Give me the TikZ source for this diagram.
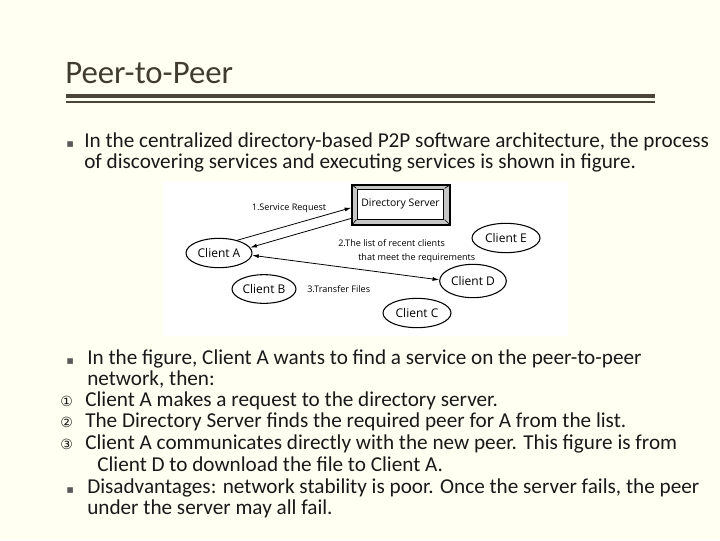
\documentclass[tikz,border=0pt]{standalone}
\usepackage{fontspec}
\setmainfont{Carlito}
\newfontfamily\symfont{DejaVu Sans}
\newfontfamily\figfont{Open Sans}
\usetikzlibrary{arrows.meta,shapes.geometric}
\definecolor{bg}{RGB}{255,255,242}
\definecolor{ttl}{RGB}{64,60,48}
\definecolor{rulec}{RGB}{75,70,57}
\definecolor{txt}{RGB}{25,25,25}
\definecolor{bulc}{RGB}{90,90,90}
\tikzset{
  body/.style={anchor=base west, inner sep=0pt, text=txt, font=\fontsize{15.9}{19}\selectfont},
  bul/.style={anchor=base west, inner sep=0pt, text=bulc, font=\symfont\fontsize{8.5}{10}\selectfont},
  num/.style={anchor=base west, inner sep=0pt, text=txt, font=\symfont\fontsize{10.5}{12}\selectfont},
  client/.style={ellipse, draw=black, line width=0.8pt, fill=white, inner sep=0pt, font=\figfont\fontsize{9}{10}\selectfont},
  small/.style={inner sep=0pt, text=black, font=\figfont\fontsize{6.8}{8}\selectfont},
  arr/.style={draw=black, line width=0.6pt, -{Latex[length=5pt,width=3pt]}},
}
\begin{document}
\begin{tikzpicture}[x=0.75pt,y=-0.75pt]
\useasboundingbox (0,0) rectangle (720,540);
\fill[bg] (0,0) rectangle (720,540);
% title
\node[anchor=base west, inner sep=0pt, text=ttl, font=\fontsize{24.6}{28}\selectfont] (title) at (65,83) {Peer-to-Peer};
\fill[rulec] (66,94) rectangle (655,98);
\fill[rulec] (66,101) rectangle (655,103);
% first bullet
\node[bul] (b1) at (66,147) {▪};
\node[body] (t1) at (84,147) {In the centralized directory-based P2P software architecture, the process};
\node[body] (t2) at (84,168) {of discovering services and executing services is shown in figure.};
% figure
\fill[white] (163,181) rectangle (568,336);
\node[draw=black, line width=1pt, fill=gray!45, minimum width=73.5pt, minimum height=30pt, inner sep=0pt] (dsout) at (401,205) {};
\draw[black, line width=0.5pt] (dsout.north west) -- ++(5,4) (dsout.south west) -- ++(5,-6) (dsout.north east) -- ++(-6,4) (dsout.south east) -- ++(-6,-6);
\node[draw=black, line width=0.6pt, fill=white, minimum width=65pt, minimum height=22.5pt, inner sep=0pt, font=\figfont\fontsize{7.8}{10}\selectfont] (ds) at (400.5,204) {Directory Server};
\node[client, minimum width=49.5pt, minimum height=22pt] (ca) at (219,253) {Client A};
\node[client, minimum width=48pt, minimum height=21.5pt] (cb) at (264,289) {Client B};
\node[client, minimum width=51pt, minimum height=22pt] (ce) at (506,238) {Client E};
\node[client, minimum width=50pt, minimum height=25pt] (cd) at (473,281) {Client D};
\node[client, minimum width=51pt, minimum height=22pt] (cc) at (417,313) {Client C};
\coordinate (dsa) at ([yshift=-2pt]dsout.west);
\coordinate (dsb) at ([yshift=-10pt]dsout.west);
\draw[arr] (ca.35) -- (dsa);
\draw[arr] (dsb) -- (ca.10);
\draw[arr, {Latex[length=5pt,width=3pt]}-{Latex[length=5pt,width=3pt]}] (ca.-4) -- (cd.178);
\node[small] (l1) at (289,208) {1.Service Request};
\node[small, anchor=base west] (l2) at (338,246) {2.The list of recent clients};
\node[small, anchor=base west] (l3) at (358,260) {that meet the requirements};
\node[small, anchor=base west] (l4) at (307,292) {3.Transfer Files};
% second block
\node[bul] (b2) at (66,364) {▪};
\node[body] (s1) at (87,364) {In the figure, Client A wants to find a service on the peer-to-peer};
\node[body] (s2) at (87,385) {network, then:};
\node[num] (n1) at (60,406) {①};
\node[body] (s3) at (85,406) {Client A makes a request to the directory server.};
\node[num] (n2) at (60,427) {②};
\node[body] (s4) at (85,427) {The Directory Server finds the required peer for A from the list.};
\node[num] (n3) at (60,449) {③};
\node[body] (s5) at (85,449) {Client A communicates directly with the new peer. This figure is from};
\node[body] (s6) at (97,471) {Client D to download the file to Client A.};
\node[bul] (b3) at (66,493) {▪};
\node[body] (s7) at (87,493) {Disadvantages: network stability is poor. Once the server fails, the peer};
\node[body] (s8) at (87,514) {under the server may all fail.};
\end{tikzpicture}
\end{document}
